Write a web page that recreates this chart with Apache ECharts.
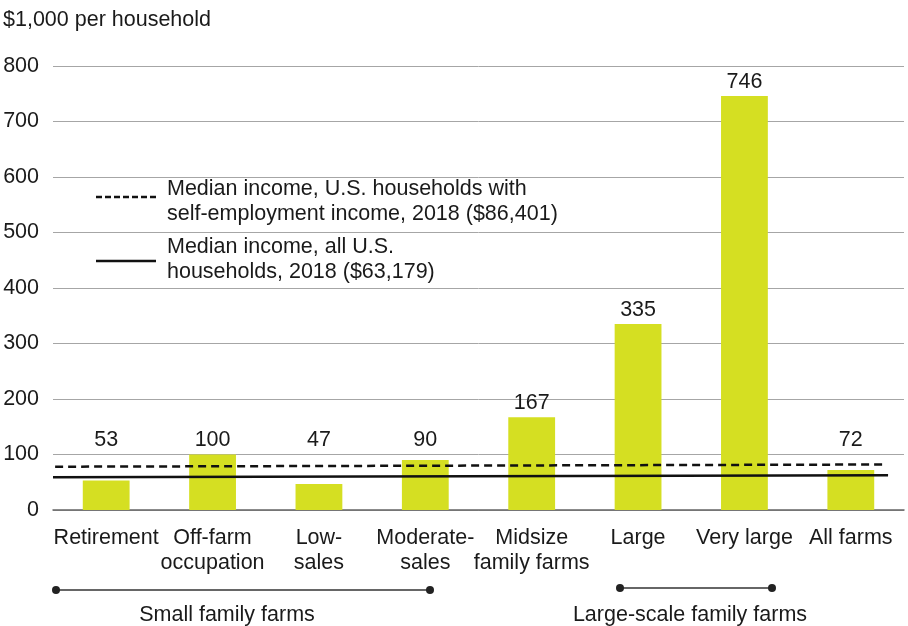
<!DOCTYPE html>
<html>
<head>
<meta charset="utf-8">
<script src="https://cdn.jsdelivr.net/npm/echarts@6/dist/echarts.min.js"></script>
<style>
  html, body { margin: 0; padding: 0; background: #fff; }
  #chart { width: 908px; height: 626px; }
</style>
</head>
<body>
<div id="chart"></div>
<script>
// categories and values ($1,000 per household)
var categories = ['Retirement', 'Off-farm\noccupation', 'Low-\nsales', 'Moderate-\nsales',
                  'Midsize\nfamily farms', 'Large', 'Very large', 'All farms'];
var incomeValues = [53, 100, 47, 90, 167, 335, 746, 72];
var yTicks = [0, 100, 200, 300, 400, 500, 600, 700, 800];

// reference lines (x on a 0..8 band scale)
var selfEmployedLine = [[0.02, 78], [7.82, 82]];
var allHouseholdsLine = [[0, 59], [7.85, 62.5]];

// small bars get their value label lifted above the reference lines
var labelFloor = 100;

var font = '"Liberation Sans", Arial, Helvetica, sans-serif';
var fs = 21.5;
var chart = echarts.init(document.getElementById('chart'));

var labelPoints = incomeValues.map(function (v, i) {
    return { value: [i, Math.max(v, labelFloor)], shown: v };
});

var option = {
    animation: false,
    backgroundColor: '#fff',
    textStyle: { fontFamily: font },
    grid: { left: 53, right: 4, top: 66, bottom: 116 },
    xAxis: [{
        type: 'category',
        data: categories,
        axisTick: { show: false },
        axisLine: { lineStyle: { color: '#666', width: 1.5 } },
        axisLabel: { color: '#1a1a1a', fontSize: fs, fontFamily: font, margin: 16, lineHeight: 25, interval: 0 }
    }, {
        type: 'value',
        min: 0,
        max: 8,
        show: false
    }],
    yAxis: {
        type: 'value',
        min: yTicks[0],
        max: yTicks[yTicks.length - 1],
        interval: 100,
        axisLine: { show: false },
        axisTick: { show: false },
        axisLabel: { color: '#1a1a1a', fontSize: fs, fontFamily: font, margin: 14 },
        splitLine: { lineStyle: { color: '#a6a6a6', width: 1 } }
    },
    series: [{
        type: 'bar',
        data: incomeValues,
        barWidth: '44%',
        itemStyle: { color: '#d5df22' }
    }, {
        type: 'line',
        xAxisIndex: 1,
        data: selfEmployedLine,
        symbol: 'none',
        clip: false,
        lineStyle: { color: '#111', width: 2.5, type: [8, 5] }
    }, {
        type: 'line',
        xAxisIndex: 1,
        data: allHouseholdsLine,
        symbol: 'none',
        clip: false,
        lineStyle: { color: '#111', width: 2.5 }
    }, {
        type: 'scatter',
        data: labelPoints,
        symbolSize: 0,
        silent: true,
        itemStyle: { opacity: 1 },
        label: {
            show: true,
            position: 'top',
            distance: 3,
            color: '#1a1a1a',
            fontSize: fs,
            fontFamily: font,
            formatter: function (p) { return p.data.shown; }
        }
    }],
    graphic: [
        { type: 'text', left: 3, top: 9, style: { text: '$1,000 per household', fontSize: fs, fontFamily: font, fill: '#1a1a1a' } },
        // legend
        { type: 'line', shape: { x1: 96, y1: 197, x2: 156, y2: 197 }, style: { stroke: '#111', lineWidth: 2.5, lineDash: [6, 3] } },
        { type: 'text', left: 167, top: 177, style: { text: 'Median income, U.S. households with\nself-employment income, 2018 ($86,401)', fontSize: fs, lineHeight: 25, fontFamily: font, fill: '#1a1a1a' } },
        { type: 'line', shape: { x1: 96, y1: 261, x2: 156, y2: 261 }, style: { stroke: '#111', lineWidth: 2.5 } },
        { type: 'text', left: 167, top: 235, style: { text: 'Median income, all U.S.\nhouseholds, 2018 ($63,179)', fontSize: fs, lineHeight: 25, fontFamily: font, fill: '#1a1a1a' } },
        // group brackets
        { type: 'line', shape: { x1: 56, y1: 590, x2: 430, y2: 590 }, style: { stroke: '#333', lineWidth: 1.5 } },
        { type: 'circle', shape: { cx: 56, cy: 590, r: 4 }, style: { fill: '#222' } },
        { type: 'circle', shape: { cx: 430, cy: 590, r: 4 }, style: { fill: '#222' } },
        { type: 'text', x: 227, y: 615, style: { text: 'Small family farms', fontSize: fs, fontFamily: font, fill: '#1a1a1a', align: 'center', verticalAlign: 'middle' } },
        { type: 'line', shape: { x1: 620, y1: 588, x2: 772, y2: 588 }, style: { stroke: '#333', lineWidth: 1.5 } },
        { type: 'circle', shape: { cx: 620, cy: 588, r: 4 }, style: { fill: '#222' } },
        { type: 'circle', shape: { cx: 772, cy: 588, r: 4 }, style: { fill: '#222' } },
        { type: 'text', x: 690, y: 615, style: { text: 'Large-scale family farms', fontSize: fs, fontFamily: font, fill: '#1a1a1a', align: 'center', verticalAlign: 'middle' } }
    ]
};
chart.setOption(option);
</script>
</body>
</html>
